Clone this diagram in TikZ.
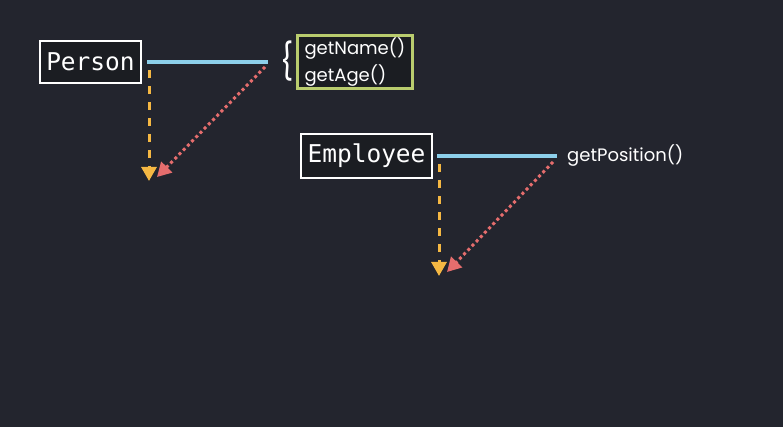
\documentclass[tikz,border=0pt]{standalone}
\usepackage{fontspec}
\setmainfont{Poppins}
\newfontfamily\codefont{DejaVu Sans Mono}
\usetikzlibrary{arrows.meta}
\definecolor{bg}{HTML}{23252E}
\definecolor{inner}{HTML}{1B1D22}
\definecolor{linkblue}{HTML}{8CCFEA}
\definecolor{dashorange}{HTML}{F5B843}
\definecolor{dotred}{HTML}{E56D6D}
\definecolor{boxgreen}{HTML}{B9CC6E}
\tikzset{
  classbox/.style={draw=white, line width=2.8pt, fill=inner, text=white,
    font=\codefont\fontsize{24.5}{26}\selectfont, inner sep=2pt, outer sep=0pt},
  relline/.style={draw=linkblue, line width=3.5pt},
  inherit/.style={draw=dashorange, line width=3pt, dash pattern=on 8pt off 8pt,
    -{Triangle[width=15pt,length=14pt,fill=dashorange]}},
  dotlink/.style={draw=dotred, line width=3pt, dash pattern=on 3pt off 3pt,
    -{Triangle[width=15pt,length=14pt,fill=dotred]}},
  methodtxt/.style={text=white, font=\fontsize{18}{27}\selectfont, align=left},
}
\begin{document}
\begin{tikzpicture}[x=1pt,y=-1pt]
\fill[bg] (0,0) rectangle (783,427);
\useasboundingbox (0,0) rectangle (783,427);

% Person
\node[classbox, minimum width=101pt, minimum height=42pt] (person) at (90.5,62) {Person};
\coordinate (pA) at (147,62);
\coordinate (pB) at (268,62);
\coordinate (pC) at (149,70);
\coordinate (pD) at (149,181);
\coordinate (pE) at (265,67);
\coordinate (pF) at (157,177);
\draw[relline] (pA) -- (pB);
\draw[inherit] (pC) -- (pD);
\draw[dotlink] (pE) -- (pF);

\node[text=white, font=\fontsize{36}{36}\selectfont\addfontfeature{FakeStretch=0.8}, inner sep=0pt] (brace) at (287,61) {\{};
\node[draw=boxgreen, line width=2.5pt, fill=inner, minimum width=115pt, minimum height=53pt,
  text width=101pt, inner xsep=7pt, inner ysep=0pt, methodtxt, anchor=center] (methods) at (355,62) {getName()\\getAge()};

% Employee
\node[classbox, minimum width=131pt, minimum height=44pt] (employee) at (366.5,156) {Employee};
\coordinate (eA) at (437,156);
\coordinate (eB) at (557,156);
\coordinate (eC) at (439,164);
\coordinate (eD) at (439,276);
\coordinate (eE) at (553,162);
\coordinate (eF) at (447,272);
\draw[relline] (eA) -- (eB);
\draw[inherit] (eC) -- (eD);
\draw[dotlink] (eE) -- (eF);
\node[methodtxt, anchor=west, inner sep=0pt] (position) at (567,156) {getPosition()};
\end{tikzpicture}
\end{document}
